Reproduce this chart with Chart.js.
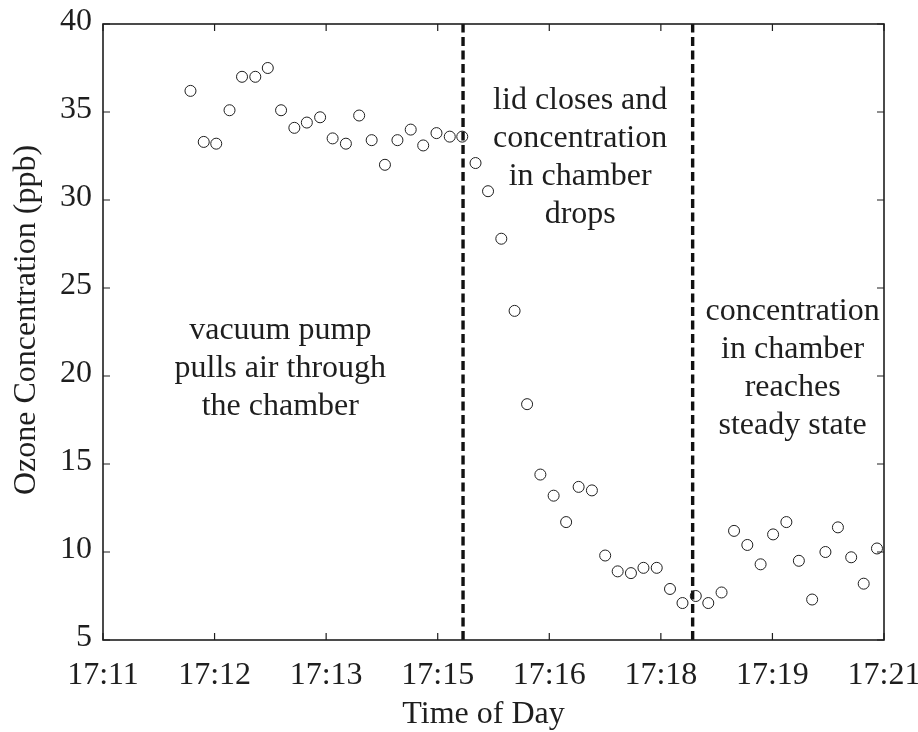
<!DOCTYPE html>
<html>
<head>
<meta charset="utf-8">
<script src="https://cdn.jsdelivr.net/npm/chart.js@4.4.1/dist/chart.umd.min.js"></script>
<style>
  html, body { margin: 0; padding: 0; background: #ffffff; }
  #wrap { width: 918px; height: 732px; position: relative; }
</style>
</head>
<body>
<div id="wrap"><canvas id="c" width="918" height="732"></canvas></div>
<script>
// ---- data (time in minutes after 17:11, ozone in ppb) ----
const timeMinutes = [1.12,1.29,1.45,1.62,1.78,1.95,2.11,2.28,2.45,2.61,2.78,2.94,3.11,3.28,3.44,3.61,3.77,3.94,4.10,4.27,4.44,4.60,4.77,4.93,5.10,5.27,5.43,5.60,5.77,5.93,6.09,6.26,6.43,6.59,6.76,6.92,7.09,7.26,7.42,7.59,7.75,7.92,8.08,8.25,8.42,8.58,8.75,8.91,9.08,9.25,9.41,9.58,9.74,9.91];
const ozonePpb = [36.2,33.3,33.2,35.1,37.0,37.0,37.5,35.1,34.1,34.4,34.7,33.5,33.2,34.8,33.4,32.0,33.4,34.0,33.1,33.8,33.6,33.6,32.1,30.5,27.8,23.7,18.4,14.4,13.2,11.7,13.7,13.5,9.8,8.9,8.8,9.1,9.1,7.9,7.1,7.5,7.1,7.7,11.2,10.4,9.3,11.0,11.7,9.5,7.3,10.0,11.4,9.7,8.2,10.2];
const xTickLabels = ['17:11','17:12','17:13','17:15','17:16','17:18','17:19','17:21'];
const yTickValues = [5,10,15,20,25,30,35,40];
const lidCloseTime = 4.61;
const steadyStateTime = 7.55;
const xRange = [0, 10];
const yRange = [5, 40];
const annotationTexts = [
  { x: 2.27, y: 22.12, lines: ['vacuum pump','pulls air through','the chamber'] },
  { x: 6.11, y: 35.16, lines: ['lid closes and','concentration','in chamber','drops'] },
  { x: 8.83, y: 23.2,  lines: ['concentration','in chamber','reaches','steady state'] }
];
const xTitle = 'Time of Day';
const yTitle = 'Ozone Concentration (ppb)';

// ---- styling ----
const FONT = '"Liberation Serif", "Times New Roman", serif';
const FS = 32;
const INK = '#1e1e1e';

const points = timeMinutes.map((t, i) => ({ x: t, y: ozonePpb[i] }));

const framePlugin = {
  id: 'frame',
  afterDatasetsDraw(chart) {
    const { ctx, chartArea: a, scales } = chart;
    const xs = scales.x, ys = scales.y;
    ctx.save();
    // annotations
    ctx.fillStyle = INK;
    ctx.font = FS + 'px ' + FONT;
    ctx.textAlign = 'center';
    ctx.textBaseline = 'alphabetic';
    annotationTexts.forEach(an => {
      const px = xs.getPixelForValue(an.x);
      const py = ys.getPixelForValue(an.y);
      an.lines.forEach((ln, i) => ctx.fillText(ln, px, py + i * 38));
    });
    // box
    ctx.strokeStyle = INK;
    ctx.lineWidth = 1.6;
    ctx.strokeRect(a.left, a.top, a.right - a.left, a.bottom - a.top);
    // inward ticks on all sides
    const tl = 7;
    ctx.lineWidth = 1.2;
    ctx.beginPath();
    xs.ticks.forEach(t => {
      const p = xs.getPixelForValue(t.value);
      ctx.moveTo(p, a.bottom); ctx.lineTo(p, a.bottom - tl);
      ctx.moveTo(p, a.top); ctx.lineTo(p, a.top + tl);
    });
    ys.ticks.forEach(t => {
      const p = ys.getPixelForValue(t.value);
      ctx.moveTo(a.left, p); ctx.lineTo(a.left + tl, p);
      ctx.moveTo(a.right, p); ctx.lineTo(a.right - tl, p);
    });
    ctx.stroke();
    // axis titles
    ctx.font = FS + 'px ' + FONT;
    ctx.textAlign = 'center';
    ctx.textBaseline = 'alphabetic';
    ctx.fillText(xTitle, (a.left + a.right) / 2 - 10, a.bottom + 83);
    ctx.translate(35, (a.top + a.bottom) / 2 - 12);
    ctx.rotate(-Math.PI / 2);
    ctx.fillText(yTitle, 0, 0);
    ctx.restore();
  }
};

new Chart(document.getElementById('c'), {
  type: 'scatter',
  data: {
    datasets: [
      {
        label: 'Ozone',
        data: points,
        showLine: false,
        pointStyle: 'circle',
        pointRadius: 5.5,
        pointBorderWidth: 1,
        pointBorderColor: INK,
        pointBackgroundColor: 'rgba(0,0,0,0)',
        order: 1
      },
      {
        label: 'lid closes',
        data: [{ x: lidCloseTime, y: yRange[0] }, { x: lidCloseTime, y: yRange[1] }],
        showLine: true,
        borderColor: '#111',
        borderWidth: 3.4,
        borderDash: [9, 4.5],
        pointRadius: 0,
        order: 2
      },
      {
        label: 'steady state',
        data: [{ x: steadyStateTime, y: yRange[0] }, { x: steadyStateTime, y: yRange[1] }],
        showLine: true,
        borderColor: '#111',
        borderWidth: 3.4,
        borderDash: [9, 4.5],
        pointRadius: 0,
        order: 2
      }
    ]
  },
  options: {
    responsive: false,
    animation: false,
    devicePixelRatio: 1,
    layout: { padding: { left: 0, right: 34, top: 24, bottom: 0 } },
    plugins: { legend: { display: false }, tooltip: { enabled: false } },
    scales: {
      x: {
        type: 'linear',
        min: xRange[0],
        max: xRange[1],
        grid: { display: false, drawTicks: false },
        border: { display: false },
        afterBuildTicks(scale) {
          const n = xTickLabels.length;
          scale.ticks = xTickLabels.map((_, i) => ({ value: xRange[0] + i * (xRange[1] - xRange[0]) / (n - 1) }));
        },
        ticks: {
          color: INK,
          font: { family: FONT, size: FS },
          padding: 16,
          maxRotation: 0,
          autoSkip: false,
          callback: (v, i) => xTickLabels[i]
        },
        afterFit(scale) { scale.height = 92; scale.paddingLeft = 0; scale.paddingRight = 0; }
      },
      y: {
        type: 'linear',
        min: yRange[0],
        max: yRange[1],
        grid: { display: false, drawTicks: false },
        border: { display: false },
        afterBuildTicks(scale) {
          scale.ticks = yTickValues.map(v => ({ value: v }));
        },
        ticks: {
          color: INK,
          font: { family: FONT, size: FS },
          padding: 11,
          labelOffset: -2,
          callback: v => String(v)
        },
        afterFit(scale) { scale.width = 103; scale.paddingTop = 0; scale.paddingBottom = 0; }
      }
    }
  },
  plugins: [framePlugin]
});
</script>
</body>
</html>
